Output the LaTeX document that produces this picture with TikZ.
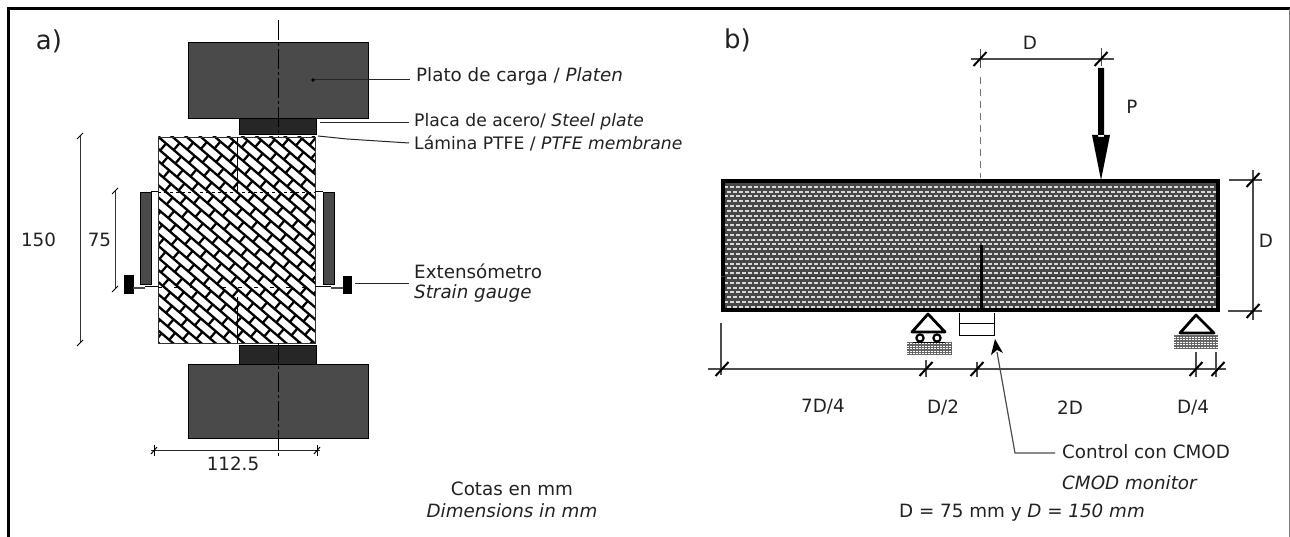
\documentclass[tikz,border=0pt]{standalone}
\usepackage{fontspec}
\setmainfont{DejaVu Sans}
\usetikzlibrary{arrows.meta}
\definecolor{platen}{gray}{0.29}
\definecolor{plate}{gray}{0.15}
\definecolor{ink}{gray}{0.13}
\tikzset{
    slash/.pic={\draw[line width=2pt,black] (-6.5,7) -- (6.5,-7);},
    block/.style={draw=black, line width=0.8pt, inner sep=0pt},
    leader/.style={draw=black!85, line width=1pt},
    dimline/.style={draw=black!70, line width=1.2pt},
    axis/.style={draw=black, line width=1pt, dash pattern=on 20pt off 3pt on 3pt off 3pt},
}
\begin{document}
\begin{tikzpicture}[x=1pt,y=-1pt]
    \useasboundingbox (0,0) rectangle (1290,537);
    \draw[line width=3pt] (8,537) -- (8,9) -- (1290,9);
    \draw[line width=1pt,black!50] (1289,9) -- (1289,537);

    \begin{scope}
        \clip (158.5,137) rectangle (315,343);
        \begin{scope}[shift={(158.5,137)},x={(0.76pt,-0.65pt)},y={(0.65pt,0.76pt)}]
            \foreach \row in {-18,...,24} {
                \draw[line width=2.3pt] (-30,\row*9.2) -- (290,\row*9.2);
                \pgfmathtruncatemacro{\odd}{mod(\row+40,2)}
                \foreach \col in {-1,...,15} {
                    \draw[line width=2.3pt] (\col*20+\odd*10,\row*9.2) -- (\col*20+\odd*10,\row*9.2+9.2);
                }
            }
        \end{scope}
    \end{scope}

    \begin{scope}
        \tikzstyle{every node}=[block, fill=platen]
        \node[minimum width=180pt, minimum height=76pt] (platentop) at (278,80) {};
        \node[minimum width=180pt, minimum height=74pt] (platenbot) at (278,401) {};
        \node[fill=plate, minimum width=77pt, minimum height=16pt] (platetop) at (277.5,126) {};
        \node[fill=plate, minimum width=77pt, minimum height=19pt] (platebot) at (277.5,354.5) {};
        \node[minimum width=10.5pt, minimum height=92pt] (barleft) at (145.75,238) {};
        \node[minimum width=11pt, minimum height=92pt] (barright) at (328.5,238) {};
        \node[fill=black, minimum width=9pt, minimum height=18pt] (clipleft) at (128.5,284) {};
        \node[fill=black, minimum width=8pt, minimum height=17pt] (clipright) at (347,285) {};
        \node[fill=none, draw=black!80, minimum width=156.5pt, minimum height=206pt] (specimen) at (236.75,240) {};
    \end{scope}

    \coordinate (axtop) at (278,20);
    \coordinate (axtopend) at (278,137);
    \coordinate (axbot) at (278,343);
    \coordinate (axbotend) at (278,457);
    \coordinate (midtop) at (237,137);
    \coordinate (midtopend) at (237,192);
    \coordinate (midbot) at (237,297);
    \coordinate (midbotend) at (237,343);
    \path[axis] (axtop) -- (axtopend);
    \path[axis] (axbot) -- (axbotend);
    \draw[line width=0.8pt] (midtop) -- (midtopend);
    \draw[line width=0.8pt] (midbot) -- (midbotend);
    \draw[line width=0.8pt,dashed] (specimen.west |- 0,192) -- (specimen.east |- 0,192);
    \draw[line width=0.8pt,dash pattern=on 4pt off 12pt] (specimen.west |- 0,287) -- (specimen.east |- 0,287);
    \draw[line width=0.8pt] (barleft.north east) -- (specimen.west |- barleft.north);
    \draw[line width=0.8pt] (barright.north west) -- (specimen.east |- barright.north);
    \draw[line width=1.6pt,black!70] (clipleft.east |- 0,288) -- (145,288);
    \draw[line width=0.8pt] (145,286.5) -- (specimen.west |- 0,286.5);
    \draw[line width=1.6pt,black!70] (clipright.west |- 0,288) -- (331,288);
    \draw[line width=0.8pt] (331,286.5) -- (specimen.east |- 0,286.5);

    \begin{scope}
        \tikzstyle{every node}=[text=ink, font=\fontsize{18.3pt}{20pt}\selectfont, inner sep=0pt]
        \node at (49,41) [font=\fontsize{26pt}{28pt}\selectfont] (lbla) {a)};
        \node at (724,40) [anchor=west, font=\fontsize{26pt}{28pt}\selectfont] (lblb) {b)};
        \node at (38.5,240) (txthundred) {150};
        \node at (99.5,240) (txtseventy) {75};
        \node at (233,464) (txtwidth) {112.5};
        \node[anchor=west] at (416,76) (txtplaten) {Plato de carga / \textit{Platen}};
        \node[anchor=west, font=\fontsize{17.2pt}{20pt}\selectfont] at (414,122) (txtsteel) {Placa de acero/ \textit{Steel plate}};
        \node[anchor=west, font=\fontsize{17.2pt}{20pt}\selectfont] at (414,143) (txtptfe) {Lámina PTFE / \textit{PTFE membrane}};
        \node[anchor=west] at (414,271) (txtgauge) {Extensómetro};
        \node[anchor=west] at (414,293) (txtgaugeen) {\textit{Strain gauge}};
        \node at (512,489) (txtcotas) {Cotas en mm};
        \node at (512,511) (txtdims) {\textit{Dimensions in mm}};
        \node at (1030,43) (txtD) {D};
        \node at (1132,107) (txtP) {P};
        \node at (1266,241) (txtDright) {D};
        \node at (823,407) (txtseven) {7D/4};
        \node at (943,408) (txthalf) {D/2};
        \node at (1070,408) (txttwo) {2D};
        \node at (1193,408) (txtquarter) {D/4};
        \node[anchor=west] at (1062,452) (txtcontrol) {Control con CMOD};
        \node[anchor=west] at (1062,483) (txtmonitor) {\textit{CMOD monitor}};
        \node at (1022,513) (txtequal) {D = 75 mm y \textit{D = 150 mm}};
    \end{scope}

    \coordinate (pointplaten) at (313,80);
    \coordinate (pointsteel) at (320,123);
    \coordinate (pointptfe) at (318,136);
    \coordinate (kinkptfe) at (347,139);
    \coordinate (pointgauge) at (355,284);
    \coordinate (endplaten) at (410,80);
    \coordinate (endsteel) at (409,123);
    \coordinate (endptfe) at (409,143);
    \coordinate (endgauge) at (409,284);
    \path[leader] (pointplaten) -- (endplaten);
    \fill (pointplaten) circle (1.8pt);
    \path[leader] (pointsteel) -- (endsteel);
    \path[leader] (pointptfe) -- (kinkptfe) -- (endptfe);
    \path[leader] (pointgauge) -- (endgauge);

    \coordinate (dimhtop) at (80,136);
    \coordinate (dimhbot) at (80,343);
    \coordinate (dimqtop) at (115,191);
    \coordinate (dimqbot) at (115,289);
    \coordinate (dimwl) at (151,450.5);
    \coordinate (dimwr) at (320,450.5);
    \draw[line width=1pt,black!80] (dimhtop) -- (dimhbot);
    \draw[line width=1pt,black!80] (dimqtop) -- (dimqbot);
    \draw[line width=1.4pt,black!85] (dimwl) -- (dimwr);
    \foreach \tickpos in {dimhtop,dimhbot,dimqtop,dimqbot} {
        \draw[line width=1pt] ([xshift=-3pt,yshift=-3pt]\tickpos) -- ([xshift=3pt,yshift=3pt]\tickpos);
    }
    \draw[line width=1pt] (154,445) -- (154,456);
    \draw[line width=1pt] (151,454) -- (157,447);
    \draw[line width=1pt] (317,445) -- (317,456);
    \draw[line width=1pt] (314,454) -- (320,447);

    \fill[black!72] (721,180) rectangle (1219,311);
    \begin{scope}
        \clip (721,180) rectangle (1219,311);
        \foreach \row in {0,...,27} {
            \pgfmathsetmacro{\shiftdash}{mod(\row,2)*3}
            \draw[white!85!black,line width=2pt,dash pattern=on 4pt off 2pt,dash phase=\shiftdash pt] (721,182+\row*4.8) -- (1219,182+\row*4.8);
        }
    \end{scope}
    \node[draw=black, line width=4pt, inner sep=0pt, minimum width=495pt, minimum height=128pt] (beam) at (970,245.5) {};
    \draw[line width=1pt,black!80] (beam.west |- 0,277) -- (beam.east |- 0,277);
    \coordinate (notchtop) at (981,245);
    \coordinate (notchbot) at (981,311);
    \draw[line width=3pt] (notchtop) -- (notchbot);

    \coordinate (dimDa) at (971,59);
    \coordinate (dimDb) at (1114,59);
    \draw[dimline] (dimDa) -- (dimDb);
    \draw[line width=1pt,black!70] (980,49) -- (980,68);
    \draw[line width=1pt,black!70] (1101,48) -- (1101,66);
    \pic at (980,59) {slash};
    \pic at (1101,59) {slash};
    \draw[line width=1pt,black!55,dash pattern=on 7pt off 5pt] (980,77) -- (980,178);
    \fill (1098,68) rectangle (1104,137) (1092,135) -- (1110,135) -- (1101,180) -- cycle;

    \coordinate (dimVa) at (1253,170);
    \coordinate (dimVb) at (1253,320);
    \draw[dimline] (dimVa) -- (dimVb);
    \draw[dimline] (1229,180) -- (1262,180);
    \draw[dimline] (1228,311) -- (1262,311);
    \pic at (1253,180) {slash};
    \pic at (1253,311) {slash};

    \coordinate (dimBa) at (708,369);
    \coordinate (dimBb) at (1226,369);
    \draw[dimline] (dimBa) -- (dimBb);
    \draw[dimline] (721,323) -- (721,375);
    \draw[dimline] (926,360) -- (926,377);
    \draw[dimline] (977,362) -- (977,377);
    \draw[dimline] (1196,352) -- (1196,377);
    \draw[dimline] (1216,352) -- (1216,377);
    \foreach \tickx in {722,926,977,1196,1218} {
        \pic at (\tickx,369) {slash};
    }

    \node[fill=black!60, inner sep=0pt, minimum width=45pt, minimum height=13pt] (groundleft) at (929.5,348.5) {};
    \node[fill=black!60, inner sep=0pt, minimum width=44pt, minimum height=14pt] (groundright) at (1196,342) {};
    \foreach \row in {0,...,4} {
        \draw[white,line width=1pt,dash pattern=on 1.5pt off 1.5pt] (907,343.5+\row*2.6) -- (952,343.5+\row*2.6);
        \draw[white,line width=1pt,dash pattern=on 1.5pt off 1.5pt] (1174,337+\row*2.6) -- (1218,337+\row*2.6);
    }
    \draw[line width=2.8pt, line join=round] (928,314) -- (912,332) -- (945,332) -- cycle;
    \draw[line width=2.8pt, line join=round] (1196,315) -- (1180,333) -- (1214,333) -- cycle;
    \draw[line width=2.2pt,fill=white] (920,338) circle (3.6pt);
    \draw[line width=2.2pt,fill=white] (937,338) circle (3.6pt);
    \draw[line width=1.8pt] (913,342.5) -- (945,342.5);

    \draw[line width=1pt] (959,313) -- (959,335) -- (994,335) -- (994,313);
    \draw[line width=1pt] (959,323) -- (994,323);
    \coordinate (cmodtip) at (995,339);
    \coordinate (cmodkink) at (1015,453);
    \coordinate (cmodend) at (1055,453);
    \coordinate (cmodstart) at (997,352);
    \draw[line width=1.2pt,black!70] (cmodend) -- (cmodkink) -- (cmodstart);
    \fill (cmodtip) -- (1003,353) -- (997,350) -- (991,355) -- cycle;
\end{tikzpicture}
\end{document}
